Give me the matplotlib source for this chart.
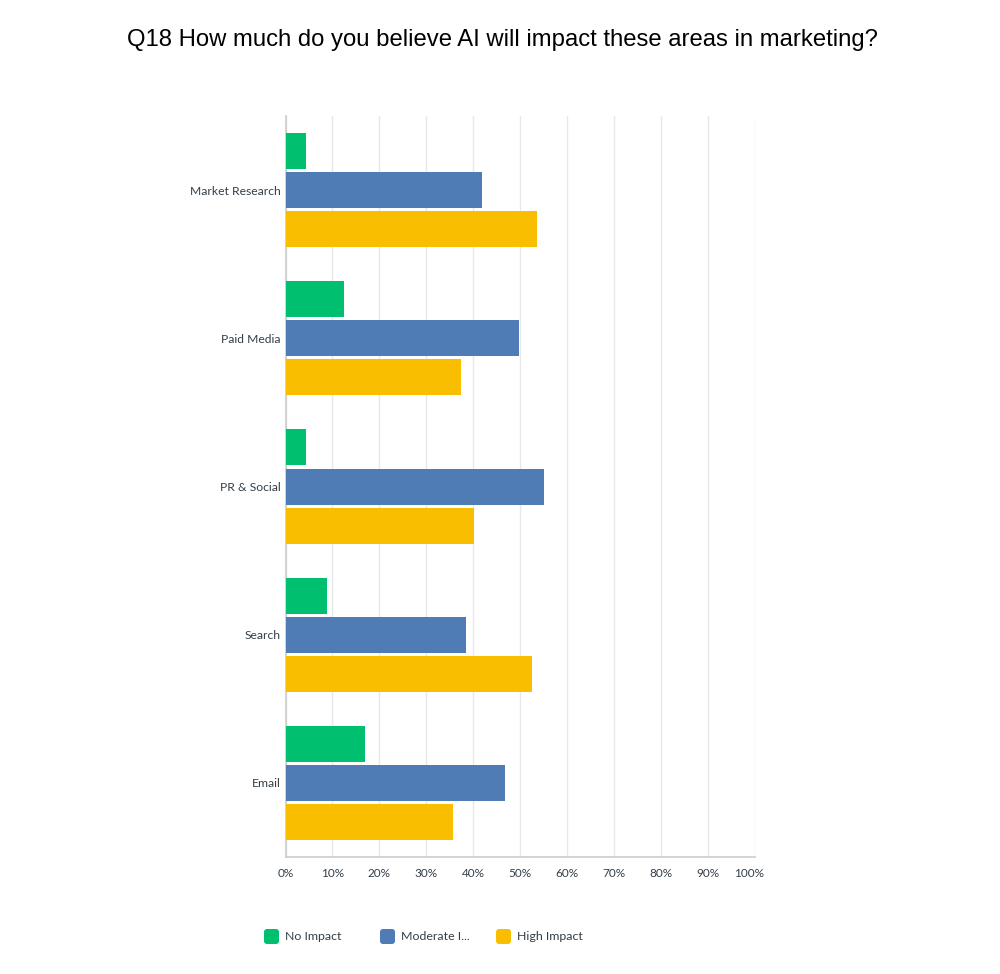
import matplotlib.pyplot as plt
import numpy as np
import matplotlib.transforms as mtransforms
from matplotlib.patches import FancyBboxPatch

categories = ["Market Research", "Paid Media", "PR & Social", "Search", "Email"]
series_names = ["No Impact", "Moderate I...", "High Impact"]
no_impact = [4.4, 12.5, 4.4, 8.8, 16.9]
moderate_impact = [41.9, 49.7, 55.1, 38.4, 46.8]
high_impact = [53.6, 37.4, 40.1, 52.5, 35.7]
xtick_labels = ["0%", "10%", "20%", "30%", "40%", "50%", "60%", "70%", "80%", "90%", "100%"]

colors = ["#00bf6f", "#507cb6", "#f9be00"]
label_color = "#333e48"

fig = plt.figure(figsize=(10, 9.74), dpi=100)
ax = fig.add_axes([0.2855, 0.1201, 0.4695, 0.7608])

y = np.arange(len(categories))
bar_h = 0.243
offset = 0.264
for i, vals in enumerate([no_impact, moderate_impact, high_impact]):
    ax.barh(y + (i - 1) * offset, vals, height=bar_h, color=colors[i], zorder=3)

ax.set_xlim(0, 100)
ax.set_ylim(4.5, -0.5)
ax.set_xticks(np.arange(0, 101, 10))
ax.set_xticklabels(xtick_labels, fontsize=8.5, family="Lato", color=label_color)
ax.set_yticks(y)
ax.set_yticklabels(categories, fontsize=8.7, family="Lato", color=label_color)
ax.tick_params(axis="both", length=0)
ax.tick_params(axis="x", pad=8)
ax.tick_params(axis="y", pad=3.5)
ax.grid(axis="x", color="#e8e8e8", linewidth=1, zorder=0)
for s in ["top", "right"]:
    ax.spines[s].set_visible(False)
for s in ["left", "bottom"]:
    ax.spines[s].set_color("#cccccc")
    ax.spines[s].set_linewidth(1.2)

# the 100% label sits a little to the left in the original
last = ax.get_xticklabels()[-1]
last.set_transform(last.get_transform() + mtransforms.ScaledTranslation(-6 / 100, 0, fig.dpi_scale_trans))

fig.suptitle("Q18 How much do you believe AI will impact these areas in marketing?",
             x=0.502, y=0.970, fontsize=17.2, family="Liberation Sans", color="black")

# legend drawn by hand below the axis
W, H = 1000, 974
for i, name in enumerate(series_names):
    x0 = 264 + i * 116
    box = FancyBboxPatch((x0 / W, (H - 944) / H), 15 / W, 15 / H,
                         boxstyle="round,pad=0,rounding_size=0.003",
                         transform=fig.transFigure, facecolor=colors[i],
                         edgecolor="none")
    fig.patches.append(box)
    fig.text((x0 + 21) / W, (H - 937) / H, name, fontsize=8.9, family="Lato",
             color=label_color, va="center", ha="left")

fig.savefig("out.png", dpi=100)
